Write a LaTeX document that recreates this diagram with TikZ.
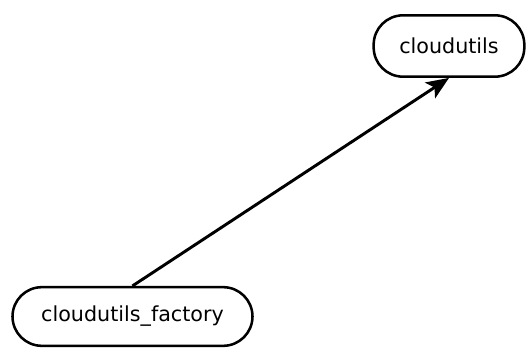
\documentclass[tikz,border=0pt]{standalone}
\usepackage{fontspec}
\setmainfont{DejaVu Sans}
\usetikzlibrary{arrows.meta}
\tikzset{
  pkg/.style={draw, line width=1.9pt, rounded corners=22pt, inner sep=0pt,
    font=\fontsize{15.5pt}{18pt}\selectfont},
  dep/.style={-{Stealth[length=17pt,width=14pt,inset=4pt]}, line width=2.2pt}
}
\begin{document}
\begin{tikzpicture}[x=0.75pt,y=-0.75pt]
    % frame
    \useasboundingbox (0,0) rectangle (526,360);
    % packages
    \node[pkg, minimum width=113pt, minimum height=46pt] (cloudutils) at (449,46) {cloudutils};
    \node[pkg, minimum width=180pt, minimum height=44pt] (factory) at (132.5,316.5) {cloudutils\_factory};
    % dependency
    \draw[dep] (factory.north) -- (cloudutils.south);
\end{tikzpicture}
\end{document}
